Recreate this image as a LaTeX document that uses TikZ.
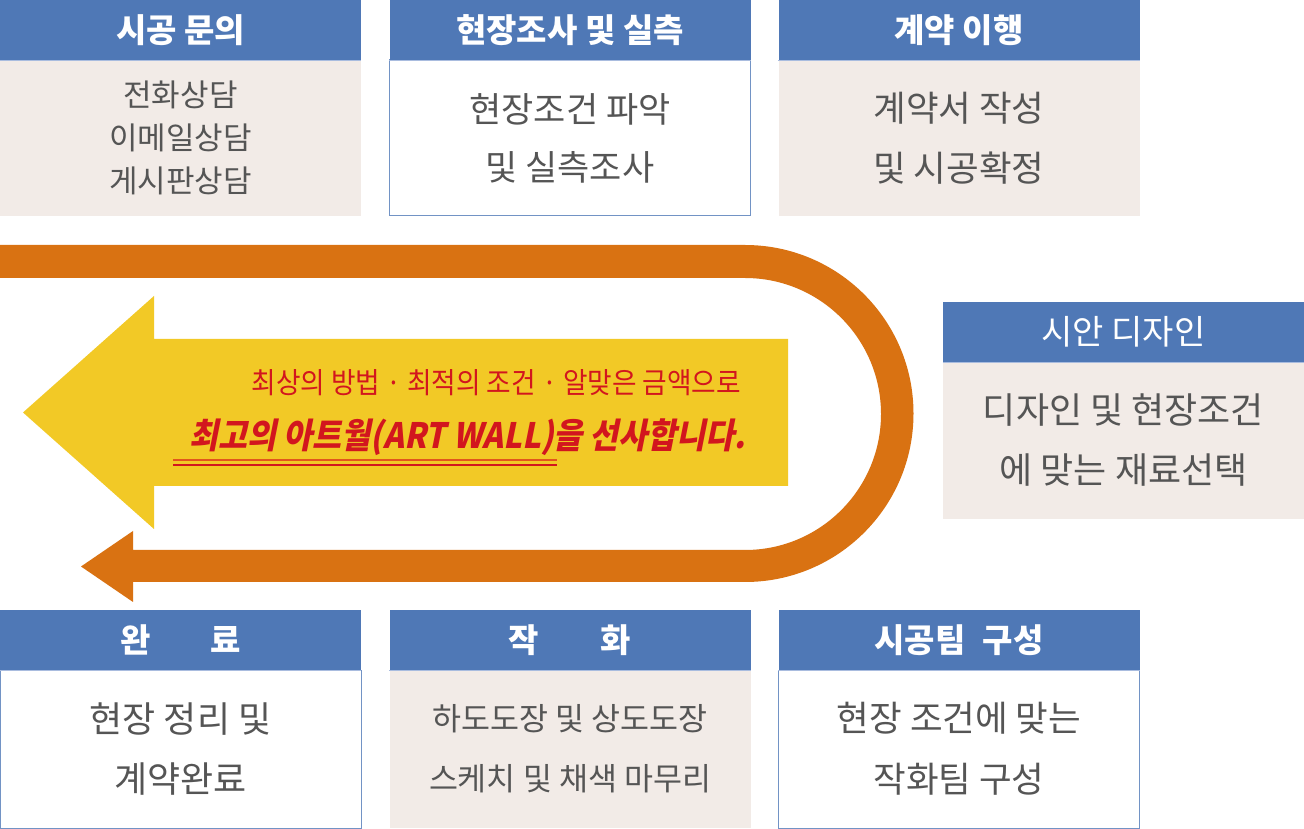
\documentclass[tikz,border=0pt]{standalone}
\usepackage{fontspec}
\setmainfont{Noto Sans CJK KR}
\newfontfamily\slogan[FakeSlant=0.2,FakeStretch=0.9]{Noto Sans CJK KR}
\newfontfamily\sub[FakeStretch=0.92]{Noto Sans CJK KR}
\definecolor{hblue}{HTML}{4F78B6}
\definecolor{hline}{HTML}{A9BCDF}
\definecolor{beige}{HTML}{F2EBE7}
\definecolor{txt}{HTML}{555555}
\definecolor{band}{HTML}{D97212}
\definecolor{arrowy}{HTML}{F2C926}
\definecolor{redtxt}{HTML}{D2161E}
\definecolor{ulor}{HTML}{E2561C}
\tikzset{
  hdr/.style={fill=hblue, text=white, minimum width=361pt, minimum height=60pt, inner sep=0pt,
    font=\bfseries\fontsize{33pt}{38pt}\selectfont},
  hdrlight/.style={hdr, font=\fontsize{34pt}{38pt}\selectfont},
  bodybox/.style={minimum width=361pt, inner sep=0pt, text=txt, align=center},
  bodybeige/.style={bodybox, fill=beige},
  bodywhite/.style={bodybox, fill=white, draw=hblue!80, line width=1pt},
  hdrline/.style={draw=hline, line width=1pt}
}
\begin{document}
\begin{tikzpicture}[x=1pt,y=1pt]
\useasboundingbox (0,0) rectangle (1304,828);
\fill[white] (0,0) rectangle (1304,828);

% orange U-shaped arrow
\fill[band] (0,583) -- (745,583) arc[start angle=90, end angle=-90, radius=168.5]
  -- (133,246) -- (133,226) -- (81,261.5) -- (133,297) -- (133,278) -- (745,278)
  arc[start angle=-90, end angle=90, radius=136] -- (0,550) -- cycle;

% yellow arrow
\fill[arrowy] (23,415.5) -- (154,532) -- (154,489) -- (788,489) -- (788,342)
  -- (154,342) -- (154,299) -- cycle;

\node[text=redtxt, font=\sub\fontsize{29pt}{32pt}\selectfont, anchor=east, inner sep=0pt] (s1) at (741,445)
  {최상의 방법 · 최적의 조건 · 알맞은 금액으로};
\node[text=redtxt, font=\slogan\bfseries\fontsize{35pt}{40pt}\selectfont, anchor=east, inner sep=0pt] (s2) at (746,391)
  {최고의 아트월(ART WALL)을 선사합니다.};
\coordinate (u1a) at (173,368); \coordinate (u1b) at (557,368);
\coordinate (u2a) at (173,363); \coordinate (u2b) at (557,363);
\draw[ulor, line width=1.5pt] (u1a) -- (u1b);
\draw[redtxt, line width=1.5pt] (u2a) -- (u2b);

% top row
\node[bodybeige, minimum height=156pt, font=\fontsize{31pt}{43pt}\selectfont] (b1) at (180.5,690)
  {전화상담\\이메일상담\\게시판상담};
\node[hdr] (h1) at (180.5,798) {시공 문의};

\node[bodywhite, minimum height=156pt, font=\fontsize{35pt}{58pt}\selectfont] (b2) at (570,690)
  {현장조건 파악\\ 및 실측조사};
\node[hdr] (h2) at (570,798) {현장조사 및 실측};

\node[bodybeige, minimum height=156pt, font=\fontsize{35.5pt}{60pt}\selectfont] (b3) at (959,690)
  {계약서 작성\\및 시공확정};
\node[hdr] (h3) at (959,798) {계약 이행};

% right box
\node[bodybeige, minimum height=157pt, font=\fontsize{36pt}{60pt}\selectfont] (b4) at (1123.5,387.5)
  {디자인 및 현장조건\\에 맞는 재료선택};
\node[hdrlight] (h4) at (1123.5,496) {시안 디자인};

% bottom row
\node[bodywhite, minimum height=158pt, font=\fontsize{36pt}{60pt}\selectfont] (b5) at (180.5,79)
  {현장 정리 및\\계약완료};
\node[hdr] (h5) at (180.5,188) {완\hspace{60pt}료};

\node[bodybeige, minimum height=158pt, font=\fontsize{31.5pt}{60pt}\selectfont] (b6) at (570,79)
  {하도도장 및 상도도장\\스케치 및 채색 마무리};
\node[hdr] (h6) at (570,188) {작\hspace{62pt}화};

\node[bodywhite, minimum height=158pt, font=\fontsize{35.5pt}{61pt}\selectfont] (b7) at (959,79)
  {현장 조건에 맞는\\작화팀 구성};
\node[hdr] (h7) at (959,188) {시공팀\hspace{17pt}구성};

\foreach \h in {h1,h2,h3,h4,h5,h6,h7}{
  \draw[hdrline] (\h.south west) -- (\h.south east);
}
\end{tikzpicture}
\end{document}
